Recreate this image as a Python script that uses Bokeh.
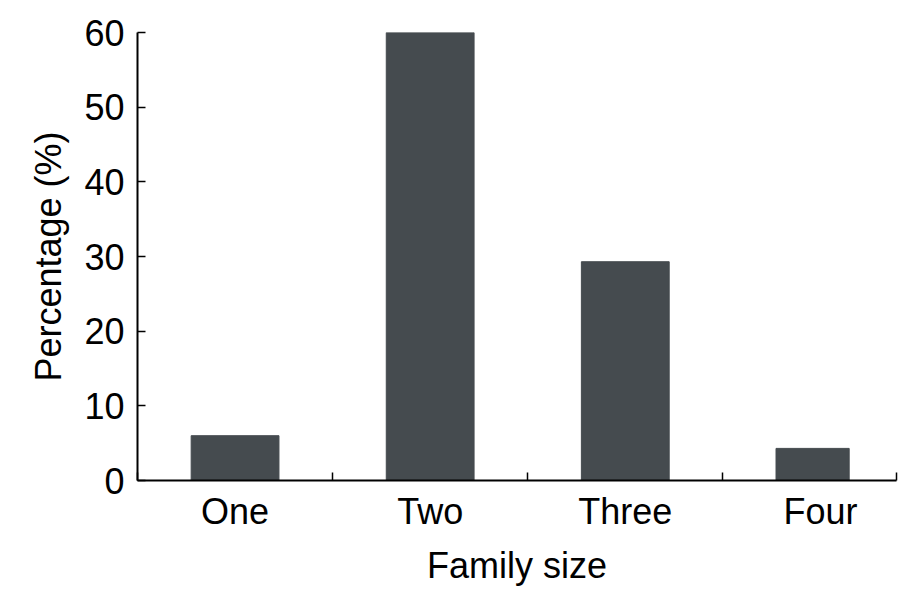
from bokeh.plotting import figure
from bokeh.models import Range1d, FixedTicker
from bokeh.embed import file_html
from bokeh.resources import INLINE

categories = ["One", "Two", "Three", "Four"]
positions = [1.0, 2.0, 3.0, 3.96]
values = [6.0, 60.0, 29.3, 4.3]
bar_widths = [0.45, 0.45, 0.45, 0.375]
y_ticks = [0, 10, 20, 30, 40, 50, 60]
boundaries = [0.5, 1.5, 2.5, 3.5, 4.39]

FONT = "Liberation Sans"
BAR = "#454b4f"
FS = "36px"

p = figure(width=915, height=592, output_backend="svg", toolbar_location=None,
           x_range=Range1d(0.5, 4.39), y_range=Range1d(0, 60))
p.min_border_left = 137
p.min_border_right = 19
p.min_border_top = 32
p.min_border_bottom = 112
p.outline_line_color = None
p.background_fill_color = "white"
p.border_fill_color = "white"
p.grid.visible = False

p.vbar(x=positions, top=values, width=bar_widths, fill_color=BAR, line_color=BAR)

xa = p.xaxis[0]
xa.ticker = FixedTicker(ticks=[1, 2, 3, 4], minor_ticks=boundaries)
xa.major_label_overrides = {i + 1: c for i, c in enumerate(categories)}
xa.major_tick_in = 0
xa.major_tick_out = 0
xa.minor_tick_in = 8
xa.minor_tick_out = 0
xa.minor_tick_line_color = "black"
xa.minor_tick_line_width = 1.5
xa.axis_line_width = 2
xa.axis_line_color = "black"
xa.major_label_text_font = FONT
xa.major_label_text_font_size = FS
xa.major_label_text_color = "black"
xa.major_label_standoff = 10
xa.axis_label = "Family size"
xa.axis_label_text_font = FONT
xa.axis_label_text_font_size = FS
xa.axis_label_text_font_style = "normal"
xa.axis_label_text_color = "black"
xa.axis_label_standoff = 10

ya = p.yaxis[0]
ya.ticker = FixedTicker(ticks=y_ticks)
ya.minor_tick_line_color = None
ya.major_tick_in = 8
ya.major_tick_out = 0
ya.major_tick_line_width = 1.5
ya.axis_line_width = 2
ya.axis_line_color = "black"
ya.major_label_text_font = FONT
ya.major_label_text_font_size = FS
ya.major_label_text_color = "black"
ya.major_label_standoff = 13
ya.axis_label = "Percentage (%)"
ya.axis_label_text_font = FONT
ya.axis_label_text_font_size = FS
ya.axis_label_text_font_style = "normal"
ya.axis_label_text_color = "black"
ya.axis_label_standoff = 12

open("out.html", "w").write(file_html(p, INLINE))
